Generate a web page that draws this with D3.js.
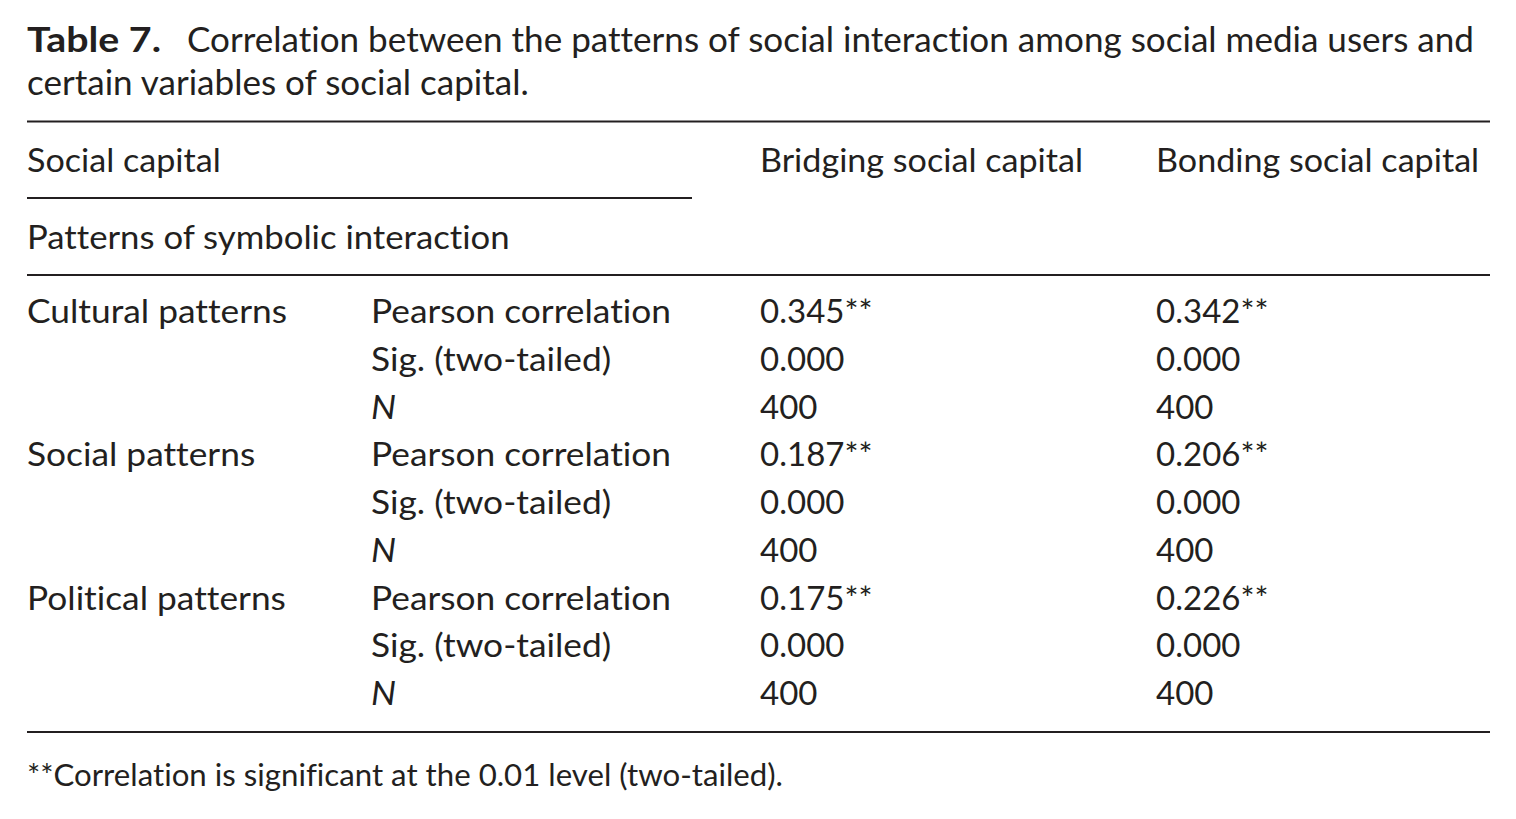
<!DOCTYPE html>
<html><head><meta charset="utf-8">
<script src="https://cdn.jsdelivr.net/npm/d3@7"></script>
<style>body{margin:0;background:#fff;overflow:hidden}
text{font-variant-ligatures:none;font-feature-settings:"liga" 0,"clig" 0;}</style>
</head><body>
<svg id="c" width="1516" height="819"></svg>
<script>
// ---------- data ----------
const titleLabel = "Table 7.";
const titleLines = [
  "Correlation between the patterns of social interaction among social media users and",
  "certain variables of social capital."
];
const headerLabel = "Social capital";
const subHeaderLabel = "Patterns of symbolic interaction";
const columns = ["Bridging social capital", "Bonding social capital"];
const patterns = ["Cultural patterns", "Social patterns", "Political patterns"];
const statistics = ["Pearson correlation", "Sig. (two-tailed)", "N"];
const bridgingValues = [
  ["0.345**", "0.000", "400"],
  ["0.187**", "0.000", "400"],
  ["0.175**", "0.000", "400"]
];
const bondingValues = [
  ["0.342**", "0.000", "400"],
  ["0.206**", "0.000", "400"],
  ["0.226**", "0.000", "400"]
];
const footnote = "**Correlation is significant at the 0.01 level (two-tailed).";

// ---------- layout ----------
const svg = d3.select("#c");
const ink = "#231f20";
const font = "Lato, 'Open Sans', sans-serif";
const bodySize = 32;

const x = d3.scaleOrdinal()
  .domain(["pattern", "stat", "bridging", "bonding"])
  .range([27, 371, 760, 1156]);
const rowY = d3.scaleLinear().domain([0, 8]).range([323, 705]);

function measure(str, size, weight) {
  const t = svg.append("text").attr("font-family", font).attr("font-size", size)
    .attr("font-weight", weight || 400).text(str);
  const w = t.node().getComputedTextLength();
  t.remove();
  return w;
}
// horizontal fitting factors so glyph widths resemble the original typeface
const kBody = 300 / measure("Pearson correlation", bodySize);
const kHead = 323 / measure(columns[0], bodySize);
const kNum = 82 / measure("0.000", bodySize);

function addText(str, px, py, opts = {}) {
  const size = opts.size || bodySize;
  const t = svg.append("text")
    .attr("x", px).attr("y", py)
    .attr("font-family", font)
    .attr("font-size", size)
    .attr("font-weight", opts.weight || 400)
    .attr("font-style", opts.italic ? "italic" : "normal")
    .attr("fill", ink)
    .text(str);
  const w = t.node().getComputedTextLength();
  const k = opts.k || kBody;
  t.attr("textLength", w * k).attr("lengthAdjust", "spacingAndGlyphs");
  return t;
}

function rule(x1, x2, y) {
  svg.append("line").attr("x1", x1).attr("x2", x2).attr("y1", y).attr("y2", y)
    .attr("stroke", ink).attr("stroke-width", 2);
}

// ---------- caption ----------
const titleSize = 34;
const kTitle = 1287 / measure(titleLines[0], titleSize);
const kLabel = 134 / measure(titleLabel, titleSize, 700);
addText(titleLabel, 27, 52, { size: titleSize, weight: 700, k: kLabel });
addText(titleLines[0], 187, 52, { size: titleSize, k: kTitle });
addText(titleLines[1], 27, 95, { size: titleSize, k: kTitle });

// ---------- rules ----------
rule(27, 1490, 121.5);
rule(27, 692, 198);
rule(27, 1490, 275);
rule(27, 1490, 732);

// ---------- headers ----------
addText(headerLabel, x("pattern"), 172, { k: kHead });
addText(columns[0], x("bridging"), 172, { k: kHead });
addText(columns[1], x("bonding"), 172, { k: kHead });
addText(subHeaderLabel, x("pattern"), 249, { k: (kHead + kBody) / 2 });

// ---------- body ----------
patterns.forEach((p, i) => {
  addText(p, x("pattern"), rowY(i * 3));
  statistics.forEach((s, j) => {
    const r = i * 3 + j;
    addText(s, x("stat"), rowY(r), { italic: s === "N" });
    addText(bridgingValues[i][j], x("bridging"), rowY(r), { k: kNum * 1.03 });
    addText(bondingValues[i][j], x("bonding"), rowY(r), { k: kNum * 1.03 });
  });
});

// ---------- footnote ----------
const footSize = 30;
const kFoot = 756 / measure(footnote, footSize);
addText(footnote, 27, 786, { size: footSize, k: kFoot });
</script>
</body></html>
